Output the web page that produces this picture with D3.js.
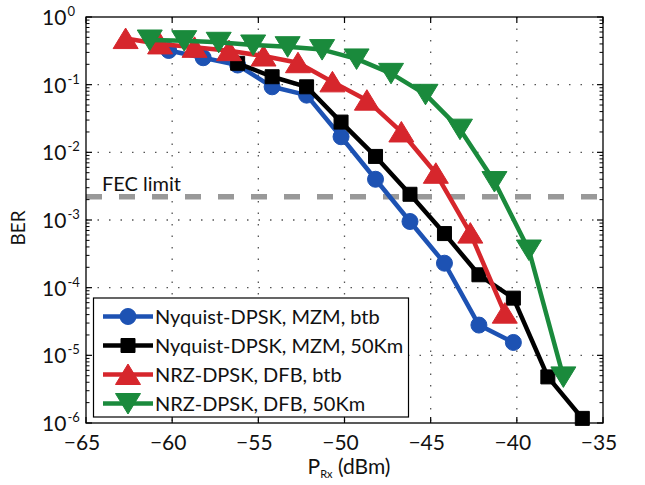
<!DOCTYPE html>
<html>
<head>
<meta charset="utf-8">
<script src="https://cdn.jsdelivr.net/npm/d3@7"></script>
<style>
  html, body { margin: 0; padding: 0; background: #fff; }
  svg { display: block; }
  text { font-family: Lato, "Open Sans", sans-serif; fill: #111; }
</style>
</head>
<body>
<div id="chart"></div>
<script>
// BER vs received optical power for four transmitter configurations
const xTicks = [-65, -60, -55, -50, -45, -40, -35];
const yExponents = [0, -1, -2, -3, -4, -5, -6];
const fecLimit = 2.2e-3;

const seriesNames = [
  "Nyquist-DPSK, MZM, btb",
  "Nyquist-DPSK, MZM, 50Km",
  "NRZ-DPSK, DFB, btb",
  "NRZ-DPSK, DFB, 50Km"
];

const nyqBtbX = [-60.2, -58.2, -56.2, -54.2, -52.2, -50.2, -48.2, -46.2, -44.2, -42.2, -40.2];
const nyqBtbY = [0.32, 0.25, 0.195, 0.093, 0.070, 0.017, 0.0040, 0.00095, 0.00023, 0.000028, 0.0000155];

const nyq50X = [-56.2, -54.2, -52.2, -50.2, -48.2, -46.2, -44.2, -42.2, -40.2, -38.2, -36.2];
const nyq50Y = [0.207, 0.131, 0.093, 0.028, 0.0087, 0.0024, 0.00063, 0.000155, 0.00007, 0.0000048, 0.00000117];

const nrzBtbX = [-62.7, -60.7, -58.7, -56.7, -54.7, -52.7, -50.7, -48.7, -46.7, -44.7, -42.7, -40.7];
const nrzBtbY = [0.48, 0.40, 0.356, 0.318, 0.265, 0.211, 0.11, 0.059, 0.020, 0.0049, 0.00064, 0.000042];

const nrz50X = [-61.3, -59.3, -57.3, -55.3, -53.3, -51.3, -49.3, -47.3, -45.3, -43.3, -41.3, -39.3, -37.3];
const nrz50Y = [0.457, 0.447, 0.423, 0.386, 0.364, 0.33, 0.24, 0.147, 0.072, 0.022, 0.0037, 0.00036, 0.0000048];

const colors = ["#1d52b3", "#000000", "#d6262c", "#1a8a3c"];
const markers = ["circle", "square", "triUp", "triDown"];

const series = [
  { name: seriesNames[0], x: nyqBtbX, y: nyqBtbY, color: colors[0], marker: markers[0] },
  { name: seriesNames[1], x: nyq50X, y: nyq50Y, color: colors[1], marker: markers[1] },
  { name: seriesNames[2], x: nrzBtbX, y: nrzBtbY, color: colors[2], marker: markers[2] },
  { name: seriesNames[3], x: nrz50X, y: nrz50Y, color: colors[3], marker: markers[3] }
];

const W = 645, H = 485;
const plot = { left: 86, right: 603, top: 17, bottom: 423 };

const svg = d3.select("#chart").append("svg")
  .attr("width", W).attr("height", H);

const x = d3.scaleLinear().domain([-65, -35]).range([plot.left, plot.right]);
const y = d3.scaleLog().domain([1e-6, 1]).range([plot.bottom, plot.top]);

// dotted grid
const grid = svg.append("g")
  .attr("stroke", "#555").attr("stroke-width", 1.3)
  .attr("stroke-dasharray", "1.5,10");
grid.selectAll("line.gx").data(xTicks.slice(1, -1)).join("line")
  .attr("x1", d => x(d)).attr("x2", d => x(d))
  .attr("y1", plot.top).attr("y2", plot.bottom);
grid.selectAll("line.gy").data(yExponents.slice(1, -1)).join("line")
  .attr("x1", plot.left).attr("x2", plot.right)
  .attr("y1", d => y(Math.pow(10, d))).attr("y2", d => y(Math.pow(10, d)));

// FEC threshold
svg.append("line")
  .attr("x1", plot.left).attr("x2", plot.right)
  .attr("y1", y(fecLimit)).attr("y2", y(fecLimit))
  .attr("stroke", "#999").attr("stroke-width", 5.5)
  .attr("stroke-dasharray", "16,17");
svg.append("text")
  .attr("x", plot.left + 16).attr("y", y(fecLimit) - 6)
  .attr("font-size", 20).text("FEC limit");

// axes frame and ticks
const axisG = svg.append("g").attr("stroke", "#000").attr("fill", "none");
axisG.append("rect")
  .attr("x", plot.left).attr("y", plot.top)
  .attr("width", plot.right - plot.left).attr("height", plot.bottom - plot.top)
  .attr("stroke-width", 1.3);

xTicks.forEach(v => {
  axisG.append("line").attr("x1", x(v)).attr("x2", x(v))
    .attr("y1", plot.bottom).attr("y2", plot.bottom - 6).attr("stroke-width", 1.2);
  axisG.append("line").attr("x1", x(v)).attr("x2", x(v))
    .attr("y1", plot.top).attr("y2", plot.top + 6).attr("stroke-width", 1.2);
});

const minorVals = [];
for (let e = -6; e < 0; e++) {
  for (let m = 2; m <= 9; m++) minorVals.push(m * Math.pow(10, e));
}
minorVals.forEach(v => {
  [plot.left, plot.right].forEach((px, i) => {
    const dir = i === 0 ? 1 : -1;
    axisG.append("line").attr("x1", px).attr("x2", px + dir * 3.5)
      .attr("y1", y(v)).attr("y2", y(v)).attr("stroke-width", 1);
  });
});
yExponents.forEach(e => {
  const v = Math.pow(10, e);
  [plot.left, plot.right].forEach((px, i) => {
    const dir = i === 0 ? 1 : -1;
    axisG.append("line").attr("x1", px).attr("x2", px + dir * 6)
      .attr("y1", y(v)).attr("y2", y(v)).attr("stroke-width", 1.2);
  });
});

// tick labels
svg.append("g").selectAll("text").data(xTicks).join("text")
  .attr("x", d => x(d) - 4).attr("y", plot.bottom + 27)
  .attr("text-anchor", "middle").attr("font-size", 21)
  .text(d => d3.format("")(d).replace("-", "\u2212"));

const yLab = svg.append("g").selectAll("text").data(yExponents).join("text")
  .attr("x", 42).attr("y", d => y(Math.pow(10, d)) + 8)
  .attr("font-size", 21);
yLab.append("tspan").text("10");
yLab.append("tspan").attr("dy", -9).attr("dx", 1).attr("font-size", 13)
  .text(d => String(d));

// axis titles
svg.append("text")
  .attr("transform", `translate(25,228) rotate(-90)`)
  .attr("text-anchor", "middle").attr("font-size", 19).text("BER");

const xt = svg.append("text")
  .attr("x", 349).attr("y", 474)
  .attr("text-anchor", "middle").attr("font-size", 21);
xt.append("tspan").text("P");
xt.append("tspan").attr("font-size", 11).attr("dy", 4).text("Rx");
xt.append("tspan").attr("dy", -4).text(" (dBm)");

// marker shapes
function markerPath(type) {
  const p = d3.path();
  if (type === "square") {
    p.rect(-7, -7, 14, 14);
  } else if (type === "triUp") {
    p.moveTo(0, -10.5); p.lineTo(12.5, 10); p.lineTo(-12.5, 10); p.closePath();
  } else if (type === "triDown") {
    p.moveTo(0, 10.5); p.lineTo(12.5, -10); p.lineTo(-12.5, -10); p.closePath();
  } else {
    p.arc(0, 0, 8, 0, 2 * Math.PI); p.closePath();
  }
  return p.toString();
}

const line = d3.line().x(d => x(d[0])).y(d => y(d[1]));

const plotG = svg.append("g");
series.forEach(s => {
  const pts = s.x.map((v, i) => [v, s.y[i]]);
  const g = plotG.append("g");
  g.append("path").attr("d", line(pts))
    .attr("fill", "none").attr("stroke", s.color).attr("stroke-width", 4.5)
    .attr("stroke-linejoin", "round");
  g.selectAll("path.m").data(pts).join("path").attr("class", "m")
    .attr("transform", d => `translate(${x(d[0])},${y(d[1])})`)
    .attr("d", markerPath(s.marker))
    .attr("fill", s.color).attr("stroke", s.color).attr("stroke-width", 1);
});

// legend
const leg = svg.append("g");
leg.append("rect")
  .attr("x", 93.5).attr("y", 298).attr("width", 315).attr("height", 119)
  .attr("fill", "#fff").attr("stroke", "#000").attr("stroke-width", 1.2);
const rowY = d3.scalePoint().domain(seriesNames).range([316.5, 403.5]);
series.forEach(s => {
  const cy = rowY(s.name);
  leg.append("line").attr("x1", 103).attr("x2", 153)
    .attr("y1", cy).attr("y2", cy)
    .attr("stroke", s.color).attr("stroke-width", 4.5);
  leg.append("path").attr("transform", `translate(128,${cy})`)
    .attr("d", markerPath(s.marker))
    .attr("fill", s.color).attr("stroke", s.color).attr("stroke-width", 1);
  leg.append("text").attr("x", 155).attr("y", cy + 7.5)
    .attr("font-size", 20).text(s.name);
});
</script>
</body>
</html>
